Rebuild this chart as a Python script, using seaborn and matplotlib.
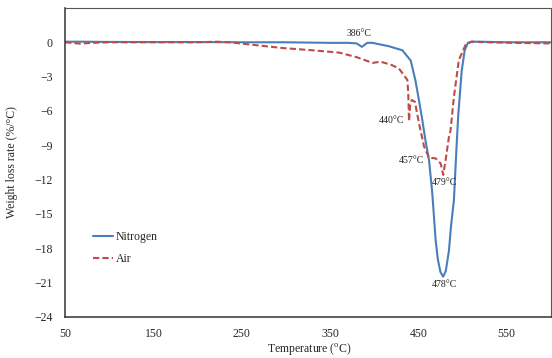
import pandas as pd
import seaborn as sns
from matplotlib import pyplot as plt

# DTG curves (temperature in degC, rate in %/degC)
nitrogen_T = [50, 70, 100, 150, 200, 250, 300, 350, 370, 380, 386, 392, 398,
              416.8, 431.8, 441.3, 446.5, 450, 454.4, 458, 462, 465.7, 469.5,
              472, 475, 478, 481, 484.6, 487, 490.2, 493, 495, 496.7, 499,
              502.4, 506, 510, 520, 550, 600]
nitrogen_rate = [0.05, 0.05, 0.03, 0.02, 0.02, 0.0, 0.0, -0.05, -0.05, -0.1,
                 -0.4, -0.05, -0.05, -0.35, -0.7, -1.6, -3.3, -4.8, -6.8,
                 -8.6, -10.3, -13.2, -17.3, -19.0, -20.1, -20.5, -20.0, -18.2,
                 -16.0, -13.8, -9.4, -6.5, -4.8, -2.5, -0.7, -0.05, 0.05,
                 0.05, 0.0, 0.0]

air_T = [50, 67, 80, 100, 150, 200, 221, 236, 260, 296, 330, 360, 380, 398,
         407.5, 420, 428, 433.8, 437.5, 438.5, 439.4, 440.5, 442.4, 446,
         450.7, 456.3, 462, 469.5, 475.2, 478.1, 480.8, 484.5, 486.4, 490.2,
         495.8, 503.3, 510, 530, 560, 600]
air_rate = [0.0, -0.12, -0.05, 0.0, 0.0, 0.0, 0.05, 0.0, -0.2, -0.5, -0.7,
            -0.9, -1.3, -1.8, -1.7, -2.0, -2.3, -2.9, -3.3, -4.5, -6.9, -5.6,
            -5.05, -5.2, -7.1, -9.1, -10.1, -10.15, -10.6, -11.6, -10.3,
            -8.3, -7.7, -4.76, -1.55, -0.24, 0.05, 0.0, -0.05, -0.1]

peak_labels = ['386°C', '440°C', '457°C', '479°C', '478°C']
peak_x = [383, 433.8, 456.3, 479, 479.5]
peak_y = [0.8, -6.8, -10.3, -12.3, -21.2]
peak_ha = ['center', 'right', 'right', 'center', 'center']

sns.set_style('white')
plt.rcParams['font.family'] = ['Liberation Serif', 'DejaVu Serif']
plt.rcParams['mathtext.fontset'] = 'custom'
plt.rcParams['mathtext.rm'] = 'Liberation Serif'

df = pd.concat([
    pd.DataFrame({'T': nitrogen_T, 'rate': nitrogen_rate, 'gas': 'Nitrogen'}),
    pd.DataFrame({'T': air_T, 'rate': air_rate, 'gas': 'Air'}),
], ignore_index=True)

fig = plt.figure(figsize=(5.52, 3.58), dpi=100)
ax = fig.add_axes([0.118, 0.1154, 0.88, 0.8623])

sns.lineplot(data=df, x='T', y='rate', hue='gas', style='gas',
             palette={'Nitrogen': '#4a7ebb', 'Air': '#be4b48'},
             dashes={'Nitrogen': '', 'Air': (3, 1.5)},
             linewidth=1.5, sort=False, ax=ax)

for lab, x, y, ha in zip(peak_labels, peak_x, peak_y, peak_ha):
    ax.text(x, y, lab, ha=ha, va='center', fontsize=7, color='#222222')

ax.set_xlim(50, 600)
ax.set_ylim(-24, 3)
ax.set_xticks(range(50, 600, 100))
ax.set_yticks(range(-24, 1, 3))
ax.tick_params(axis='x', length=3, direction='out', pad=5, labelsize=8.5,
               color='#555555')
ax.tick_params(axis='y', length=0, pad=9, labelsize=8.5)

for side in ['left', 'bottom']:
    ax.spines[side].set_color('#333333')
    ax.spines[side].set_linewidth(1.1)
for side in ['top', 'right']:
    ax.spines[side].set_color('#555555')
    ax.spines[side].set_linewidth(0.8)

ax.set_xlabel('Temperature ($\\mathregular{^{o}}$C)', fontsize=8.5)
ax.set_ylabel('Weight loss rate (%/°C)', fontsize=8.5)
ax.xaxis.set_label_coords(0.503, -0.078)
ax.yaxis.set_label_coords(-0.097, 0.5)

ax.legend(loc='center left', bbox_to_anchor=(0.0576, 0.2225), frameon=False,
          borderpad=0, borderaxespad=0, handlelength=1.7, handletextpad=0.2,
          labelspacing=0.85, fontsize=8.5)

plt.savefig('out.png', dpi=100)
plt.close()
